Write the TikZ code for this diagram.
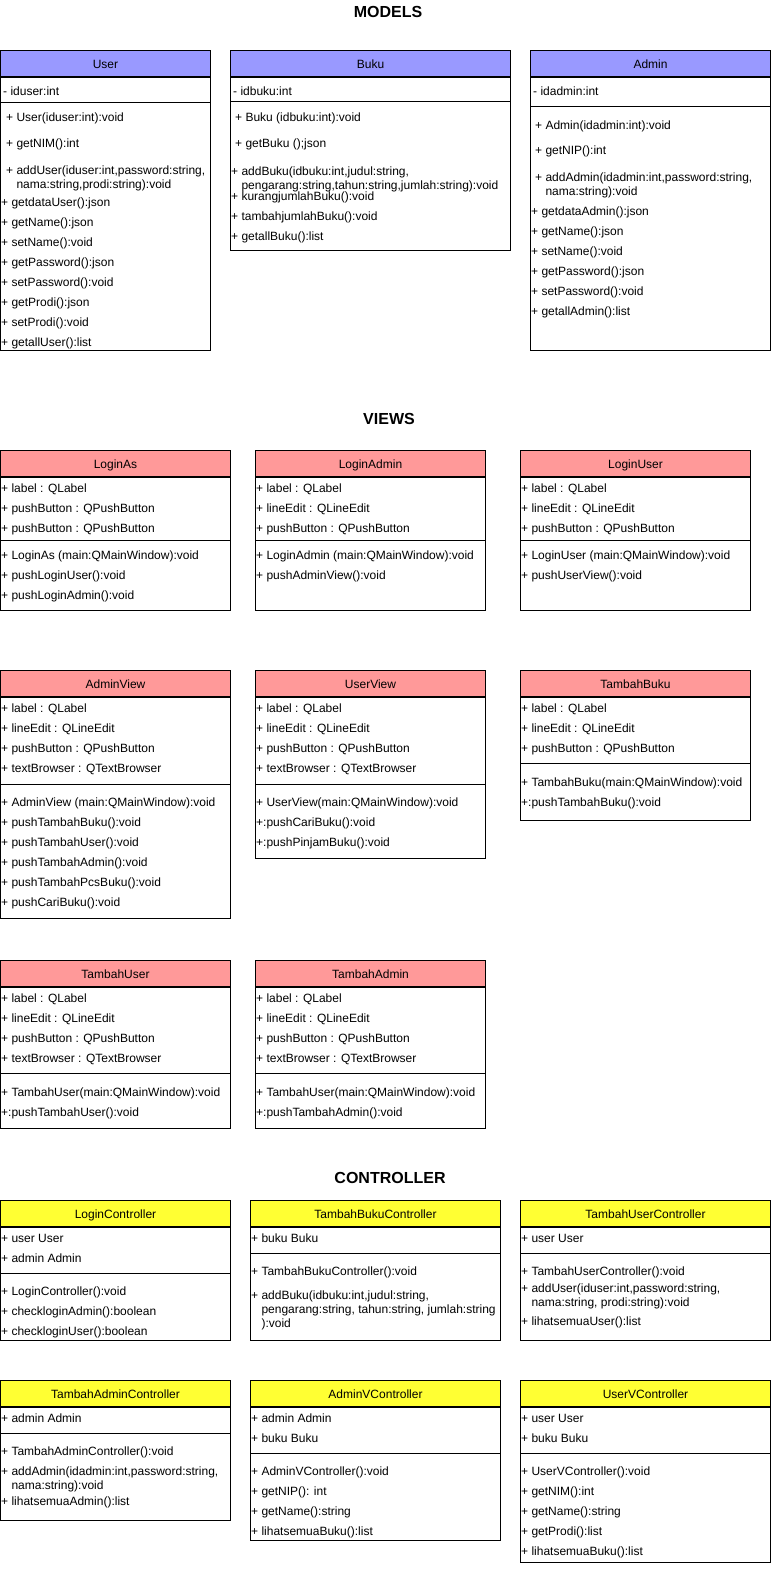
\documentclass[tikz,border=0pt]{standalone}
\usepackage{fontspec}
\setmainfont{Liberation Sans}
\usepackage{xcolor}
\definecolor{modelc}{HTML}{9999FF}
\definecolor{viewc}{HTML}{FF9999}
\definecolor{ctrlc}{HTML}{FFFF33}
\usetikzlibrary{positioning}

\begin{document}
\begin{tikzpicture}[x=1pt, y=-1pt]
  % 定义样式
  \tikzset{txt/.style = {inner sep=0pt, font=\fontsize{12}{14}\selectfont}}
  \tikzset{head/.style = {txt, draw, line width=1pt, anchor=north west, minimum height=26pt, text height=10.4pt, text depth=0.6pt}}
  \tikzset{row/.style = {txt, anchor=west, yshift=-2pt, text height=8.6pt, text depth=2.4pt}}
  \tikzset{rows/.style = {txt, anchor=west, yshift=-2pt, align=left}}
  \tikzset{box/.style = {draw, line width=1pt}}
  \tikzset{title/.style = {font=\fontsize{16}{19}\selectfont\bfseries}}

  \useasboundingbox (0,0) rectangle (771,1571);

  % 标题
  \node[title] (tmodels) at (388,12) {MODELS};
  \node[title] (tviews) at (389,419) {VIEWS};
  \node[title] (tctrl) at (390,1178) {CONTROLLER};

  % ---------------- MODELS ----------------
  % User
  \node[head, fill=modelc, minimum width=210pt] (user) at (0,50) {User};
  \draw[box] (user.south west) rectangle (210,350);
  \draw[box] (0,102) -- (210,102);
  \node[row] (user-a1) at (3,90) {- iduser:int};
  \node[row] (user-m1) at (6,116) {+ User(iduser:int):void};
  \node[row] (user-m2) at (6,142) {+ getNIM():int};
  \node[rows] (user-m3) at (6,176) {+ addUser(iduser:int,password:string,\\\phantom{+ }nama:string,prodi:string):void};
  \foreach \t [count=\i from 0] in {+ getdataUser():json, + getName():json, + setName():void, + getPassword():json, + setPassword():void, + getProdi():json, + setProdi():void, + getallUser():list}
    \node[row] (user-r\i) at (1,201+20*\i) {\t};

  % Buku
  \node[head, fill=modelc, minimum width=280pt] (buku) at (230,50) {Buku};
  \draw[box] (buku.south west) rectangle (510,250);
  \draw[box] (230,101) -- (510,101);
  \node[row] (buku-a1) at (233,90) {- idbuku:int};
  \node[row] (buku-m1) at (235,116) {+ Buku (idbuku:int):void};
  \node[row] (buku-m2) at (235,142) {+ getBuku ();json};
  \node[rows] (buku-m3) at (231,177) {+ addBuku(idbuku:int,judul:string,\\\phantom{+ }pengarang:string,tahun:string,jumlah:string):void};
  \foreach \t [count=\i from 0] in {+ kurangjumlahBuku():void, + tambahjumlahBuku():void, + getallBuku():list}
    \node[row] (buku-r\i) at (231,195+20*\i) {\t};

  % Admin
  \node[head, fill=modelc, minimum width=240pt] (admin) at (530,50) {Admin};
  \draw[box] (admin.south west) rectangle (770,350);
  \draw[box] (530,106) -- (770,106);
  \node[row] (admin-a1) at (533,90) {- idadmin:int};
  \node[row] (admin-m1) at (535,124) {+ Admin(idadmin:int):void};
  \node[row] (admin-m2) at (535,149) {+ getNIP():int};
  \node[rows] (admin-m3) at (535,183) {+ addAdmin(idadmin:int,password:string,\\\phantom{+ }nama:string):void};
  \foreach \t [count=\i from 0] in {+ getdataAdmin():json, + getName():json, + setName():void, + getPassword():json, + setPassword():void, + getallAdmin():list}
    \node[row] (admin-r\i) at (531,210+20*\i) {\t};

  % ---------------- VIEWS ----------------
  % LoginAs
  \node[head, fill=viewc, minimum width=230pt] (loginas) at (0,450) {LoginAs};
  \draw[box] (loginas.south west) rectangle (230,610);
  \draw[box] (0,540) -- (230,540);
  \foreach \t [count=\i from 0] in {+ label : QLabel, + pushButton : QPushButton, + pushButton : QPushButton}
    \node[row] (loginas-a\i) at (1,487+20*\i) {\t};
  \foreach \t [count=\i from 0] in {+ LoginAs (main:QMainWindow):void, + pushLoginUser():void, + pushLoginAdmin():void}
    \node[row] (loginas-m\i) at (1,554+20*\i) {\t};

  % LoginAdmin
  \node[head, fill=viewc, minimum width=230pt] (loginadmin) at (255,450) {LoginAdmin};
  \draw[box] (loginadmin.south west) rectangle (485,610);
  \draw[box] (255,540) -- (485,540);
  \foreach \t [count=\i from 0] in {+ label : QLabel, + lineEdit : QLineEdit, + pushButton : QPushButton}
    \node[row] (loginadmin-a\i) at (256,487+20*\i) {\t};
  \foreach \t [count=\i from 0] in {+ LoginAdmin (main:QMainWindow):void, + pushAdminView():void}
    \node[row] (loginadmin-m\i) at (256,554+20*\i) {\t};

  % LoginUser
  \node[head, fill=viewc, minimum width=230pt] (loginuser) at (520,450) {LoginUser};
  \draw[box] (loginuser.south west) rectangle (750,610);
  \draw[box] (520,540) -- (750,540);
  \foreach \t [count=\i from 0] in {+ label : QLabel, + lineEdit : QLineEdit, + pushButton : QPushButton}
    \node[row] (loginuser-a\i) at (521,487+20*\i) {\t};
  \foreach \t [count=\i from 0] in {+ LoginUser (main:QMainWindow):void, + pushUserView():void}
    \node[row] (loginuser-m\i) at (521,554+20*\i) {\t};

  % AdminView
  \node[head, fill=viewc, minimum width=230pt] (adminview) at (0,670) {AdminView};
  \draw[box] (adminview.south west) rectangle (230,918);
  \draw[box] (0,784) -- (230,784);
  \foreach \t [count=\i from 0] in {+ label : QLabel, + lineEdit : QLineEdit, + pushButton : QPushButton, + textBrowser : QTextBrowser}
    \node[row] (adminview-a\i) at (1,707+20*\i) {\t};
  \foreach \t [count=\i from 0] in {+ AdminView (main:QMainWindow):void, + pushTambahBuku():void, + pushTambahUser():void, + pushTambahAdmin():void, + pushTambahPcsBuku():void, + pushCariBuku():void}
    \node[row] (adminview-m\i) at (1,801+20*\i) {\t};

  % UserView
  \node[head, fill=viewc, minimum width=230pt] (userview) at (255,670) {UserView};
  \draw[box] (userview.south west) rectangle (485,858);
  \draw[box] (255,784) -- (485,784);
  \foreach \t [count=\i from 0] in {+ label : QLabel, + lineEdit : QLineEdit, + pushButton : QPushButton, + textBrowser : QTextBrowser}
    \node[row] (userview-a\i) at (256,707+20*\i) {\t};
  \foreach \t [count=\i from 0] in {+ UserView(main:QMainWindow):void, +:pushCariBuku():void, +:pushPinjamBuku():void}
    \node[row] (userview-m\i) at (256,801+20*\i) {\t};

  % TambahBuku
  \node[head, fill=viewc, minimum width=230pt] (tambahbuku) at (520,670) {TambahBuku};
  \draw[box] (tambahbuku.south west) rectangle (750,820);
  \draw[box] (520,763) -- (750,763);
  \foreach \t [count=\i from 0] in {+ label : QLabel, + lineEdit : QLineEdit, + pushButton : QPushButton}
    \node[row] (tambahbuku-a\i) at (521,707+20*\i) {\t};
  \foreach \t [count=\i from 0] in {+ TambahBuku(main:QMainWindow):void, +:pushTambahBuku():void}
    \node[row] (tambahbuku-m\i) at (521,781+20*\i) {\t};

  % TambahUser
  \node[head, fill=viewc, minimum width=230pt] (tambahuser) at (0,960) {TambahUser};
  \draw[box] (tambahuser.south west) rectangle (230,1128);
  \draw[box] (0,1073) -- (230,1073);
  \foreach \t [count=\i from 0] in {+ label : QLabel, + lineEdit : QLineEdit, + pushButton : QPushButton, + textBrowser : QTextBrowser}
    \node[row] (tambahuser-a\i) at (1,997+20*\i) {\t};
  \foreach \t [count=\i from 0] in {+ TambahUser(main:QMainWindow):void, +:pushTambahUser():void}
    \node[row] (tambahuser-m\i) at (1,1091+20*\i) {\t};

  % TambahAdmin
  \node[head, fill=viewc, minimum width=230pt] (tambahadmin) at (255,960) {TambahAdmin};
  \draw[box] (tambahadmin.south west) rectangle (485,1128);
  \draw[box] (255,1073) -- (485,1073);
  \foreach \t [count=\i from 0] in {+ label : QLabel, + lineEdit : QLineEdit, + pushButton : QPushButton, + textBrowser : QTextBrowser}
    \node[row] (tambahadmin-a\i) at (256,997+20*\i) {\t};
  \foreach \t [count=\i from 0] in {+ TambahUser(main:QMainWindow):void, +:pushTambahAdmin():void}
    \node[row] (tambahadmin-m\i) at (256,1091+20*\i) {\t};

  % ---------------- CONTROLLER ----------------
  % LoginController
  \node[head, fill=ctrlc, minimum width=230pt] (loginc) at (0,1200) {LoginController};
  \draw[box] (loginc.south west) rectangle (230,1340);
  \draw[box] (0,1273) -- (230,1273);
  \foreach \t [count=\i from 0] in {+ user User, + admin Admin}
    \node[row] (loginc-a\i) at (1,1237+20*\i) {\t};
  \foreach \t [count=\i from 0] in {+ LoginController():void, + checkloginAdmin():boolean, + checkloginUser():boolean}
    \node[row] (loginc-m\i) at (1,1290+20*\i) {\t};

  % TambahBukuController
  \node[head, fill=ctrlc, minimum width=250pt] (tbukuc) at (250,1200) {TambahBukuController};
  \draw[box] (tbukuc.south west) rectangle (500,1340);
  \draw[box] (250,1253) -- (500,1253);
  \node[row] (tbukuc-a0) at (251,1237) {+ buku Buku};
  \node[row] (tbukuc-m0) at (251,1270) {+ TambahBukuController():void};
  \node[rows] (tbukuc-m1) at (251,1308) {+ addBuku(idbuku:int,judul:string,\\\phantom{+ }pengarang:string, tahun:string, jumlah:string\\\phantom{+ }):void};

  % TambahUserController
  \node[head, fill=ctrlc, minimum width=250pt] (tuserc) at (520,1200) {TambahUserController};
  \draw[box] (tuserc.south west) rectangle (770,1340);
  \draw[box] (520,1253) -- (770,1253);
  \node[row] (tuserc-a0) at (521,1237) {+ user User};
  \node[row] (tuserc-m0) at (521,1270) {+ TambahUserController():void};
  \node[rows] (tuserc-m1) at (521,1294) {+ addUser(iduser:int,password:string,\\\phantom{+ }nama:string, prodi:string):void};
  \node[row] (tuserc-m2) at (521,1320) {+ lihatsemuaUser():list};

  % TambahAdminController
  \node[head, fill=ctrlc, minimum width=230pt] (tadminc) at (0,1380) {TambahAdminController};
  \draw[box] (tadminc.south west) rectangle (230,1520);
  \draw[box] (0,1433) -- (230,1433);
  \node[row] (tadminc-a0) at (1,1417) {+ admin Admin};
  \node[row] (tadminc-m0) at (1,1450) {+ TambahAdminController():void};
  \node[rows] (tadminc-m1) at (1,1477) {+ addAdmin(idadmin:int,password:string,\\\phantom{+ }nama:string):void};
  \node[row] (tadminc-m2) at (1,1500) {+ lihatsemuaAdmin():list};

  % AdminVController
  \node[head, fill=ctrlc, minimum width=250pt] (adminvc) at (250,1380) {AdminVController};
  \draw[box] (adminvc.south west) rectangle (500,1540);
  \draw[box] (250,1453) -- (500,1453);
  \foreach \t [count=\i from 0] in {+ admin Admin, + buku Buku}
    \node[row] (adminvc-a\i) at (251,1417+20*\i) {\t};
  \foreach \t [count=\i from 0] in {+ AdminVController():void, + getNIP(): int, + getName():string, + lihatsemuaBuku():list}
    \node[row] (adminvc-m\i) at (251,1470+20*\i) {\t};

  % UserVController
  \node[head, fill=ctrlc, minimum width=250pt] (uservc) at (520,1380) {UserVController};
  \draw[box] (uservc.south west) rectangle (770,1562);
  \draw[box] (520,1453) -- (770,1453);
  \foreach \t [count=\i from 0] in {+ user User, + buku Buku}
    \node[row] (uservc-a\i) at (521,1417+20*\i) {\t};
  \foreach \t [count=\i from 0] in {+ UserVController():void, + getNIM():int, + getName():string, + getProdi():list, + lihatsemuaBuku():list}
    \node[row] (uservc-m\i) at (521,1470+20*\i) {\t};
\end{tikzpicture}
\end{document}
